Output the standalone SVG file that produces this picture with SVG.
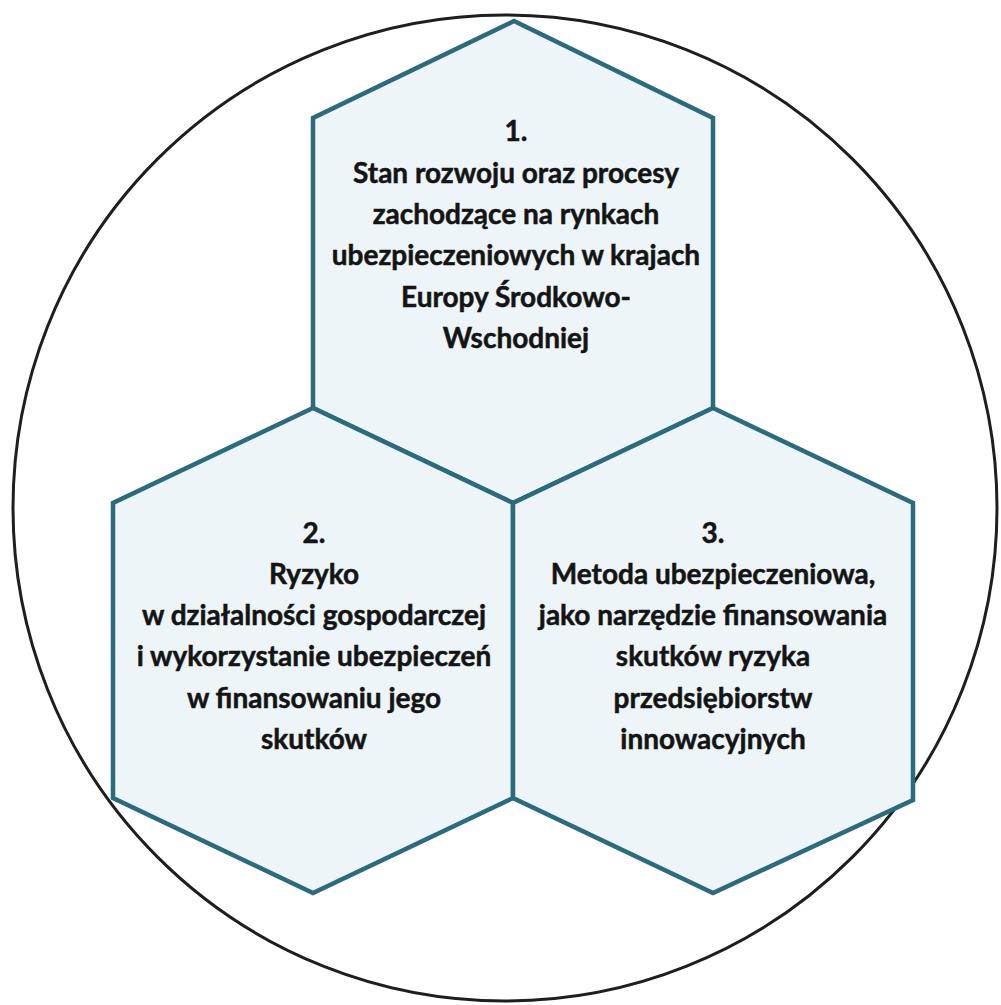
<svg xmlns="http://www.w3.org/2000/svg" width="1001" height="1005" viewBox="0 0 1001 1005">
<style>
.hex{fill:#edf5f8;stroke:#2c6a7d;stroke-width:4.5;stroke-linejoin:miter}
.t{font-family:Lato,"Open Sans","Liberation Sans",sans-serif;font-weight:bold;font-size:28px;fill:#141414;stroke:#141414;stroke-width:0.5;text-anchor:middle}
</style>
<rect width="1001" height="1005" fill="#ffffff"/>
<g id="frame">
<ellipse cx="505" cy="508" rx="492" ry="493" fill="none" stroke="#1e1e1e" stroke-width="3"/>
</g>
<g id="connectors"/>
<g id="node1">
<polygon class="hex" points="514,21 313,118 313,408 513,503 713,408 713,118"/>
<text class="t" x="516" y="141">1.</text>
<text class="t" x="516" y="183">Stan rozwoju oraz procesy</text>
<text class="t" x="516" y="224">zachodzące na rynkach</text>
<text class="t" x="516" y="265">ubezpieczeniowych w krajach</text>
<text class="t" x="516" y="307">Europy Środkowo-</text>
<text class="t" x="516" y="348">Wschodniej</text>
</g>
<g id="node2">
<polygon class="hex" points="313,408 113,503 113,798 313,893 513,798 513,503"/>
<text class="t" x="314" y="543">2.</text>
<text class="t" x="314" y="584">Ryzyko</text>
<text class="t" x="314" y="625">w działalności gospodarczej</text>
<text class="t" x="314" y="666">i wykorzystanie ubezpieczeń</text>
<text class="t" x="314" y="708">w finansowaniu jego</text>
<text class="t" x="314" y="749">skutków</text>
</g>
<g id="node3">
<polygon class="hex" points="713,408 513,503 513,798 713,893 913,800 913,503"/>
<text class="t" x="713" y="543">3.</text>
<text class="t" x="713" y="584">Metoda ubezpieczeniowa,</text>
<text class="t" x="713" y="625">jako narzędzie finansowania</text>
<text class="t" x="713" y="666">skutków ryzyka</text>
<text class="t" x="713" y="708">przedsiębiorstw</text>
<text class="t" x="713" y="749">innowacyjnych</text>
</g>
</svg>
